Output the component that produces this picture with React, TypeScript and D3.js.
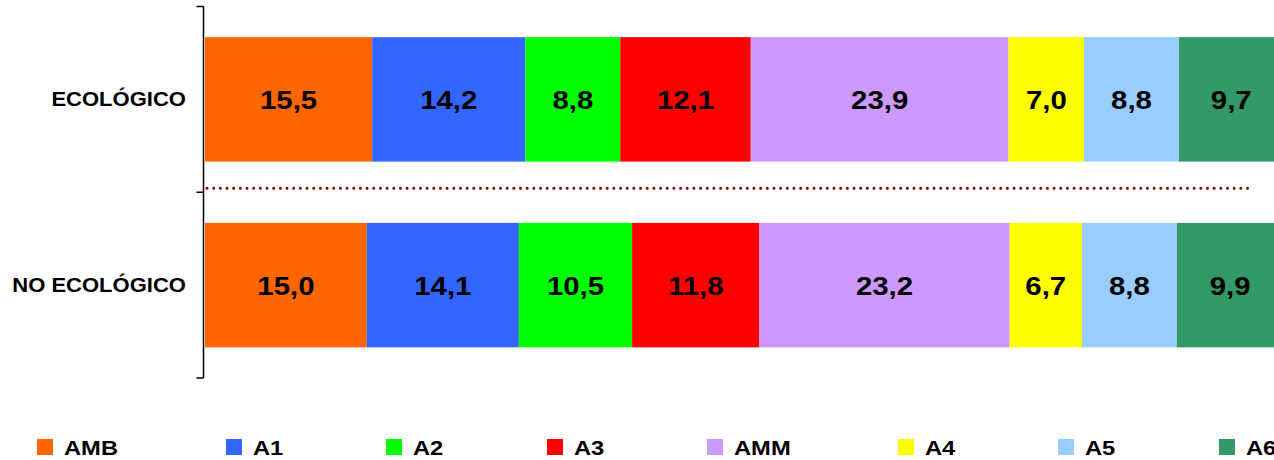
import React from "react";
import * as d3 from "d3";

const categories = ["ECOLÓGICO", "NO ECOLÓGICO"];
const seriesNames = ["AMB", "A1", "A2", "A3", "AMM", "A4", "A5", "A6"];
const ecologico = [15.5, 14.2, 8.8, 12.1, 23.9, 7.0, 8.8, 9.7];
const noEcologico = [15.0, 14.1, 10.5, 11.8, 23.2, 6.7, 8.8, 9.9];
const colors = ["#FF6600", "#3366FF", "#00FF00", "#FF0000", "#CC99FF", "#FFFF00", "#99CCFF", "#339966"];
const legendX = [37, 226, 386, 547, 707, 898, 1058, 1219];

const W = 1274;
const H = 460;
const FONT = "'Liberation Sans', Arial, sans-serif";
const SX = 1.13;

function WideText(props: {
  x: number;
  y: number;
  size: number;
  anchor?: "start" | "middle" | "end";
  children: React.ReactNode;
}) {
  return (
    <text
      transform={`translate(${props.x},${props.y}) scale(${SX},1)`}
      textAnchor={props.anchor || "start"}
      fontSize={props.size}
      fontWeight="bold"
      fill="#000"
    >
      {props.children}
    </text>
  );
}

export default function App() {
  const values = [ecologico, noEcologico];
  const x = d3.scaleLinear().domain([0, 100]).range([205, 1283.6]);
  const y = d3.scaleBand<string>().domain(categories).range([6.5, 378]).paddingInner(0.33).paddingOuter(0.165);
  const axisX = 203.5;
  const step = y.step();
  const tickYs = [6.5, 6.5 + step, 6.5 + 2 * step];
  const midY = (y(categories[0])! + y.bandwidth() + y(categories[1])!) / 2;

  return (
    <svg width={W} height={H} style={{ position: "absolute", left: 0, top: 0 }} fontFamily={FONT}>
      <rect width={W} height={H} fill="#fff" />
      {values.map((row, ri) => {
        const cat = categories[ri];
        const y0 = y(cat)!;
        const bw = y.bandwidth();
        let cum = 0;
        return (
          <g key={cat}>
            {row.map((v, i) => {
              const x0 = x(cum);
              cum += v;
              const x1 = x(cum);
              return (
                <g key={i}>
                  <rect x={x0} y={y0} width={x1 - x0} height={bw} fill={colors[i]} />
                  <WideText x={(x0 + x1) / 2} y={y0 + bw / 2 + 10} size={26} anchor="middle">
                    {v.toFixed(1).replace(".", ",")}
                  </WideText>
                </g>
              );
            })}
            <WideText x={186} y={y0 + bw / 2 + 7} size={19.5} anchor="end">
              {cat}
            </WideText>
          </g>
        );
      })}
      <line x1={axisX} x2={axisX} y1={tickYs[0]} y2={tickYs[2]} stroke="#000" strokeWidth={1.5} />
      {tickYs.map((t, i) => (
        <line key={i} x1={axisX - 7} x2={axisX} y1={t} y2={t} stroke="#000" strokeWidth={1.5} />
      ))}
      <line
        x1={207}
        x2={1249}
        y1={midY - 4}
        y2={midY - 4}
        stroke="#800000"
        strokeWidth={3}
        strokeLinecap="round"
        strokeDasharray="0 6.67"
      />
      {seriesNames.map((s, i) => (
        <g key={s}>
          <rect x={legendX[i]} y={439} width={16} height={16} fill={colors[i]} />
          <WideText x={legendX[i] + 27} y={455} size={21}>
            {s}
          </WideText>
        </g>
      ))}
    </svg>
  );
}
